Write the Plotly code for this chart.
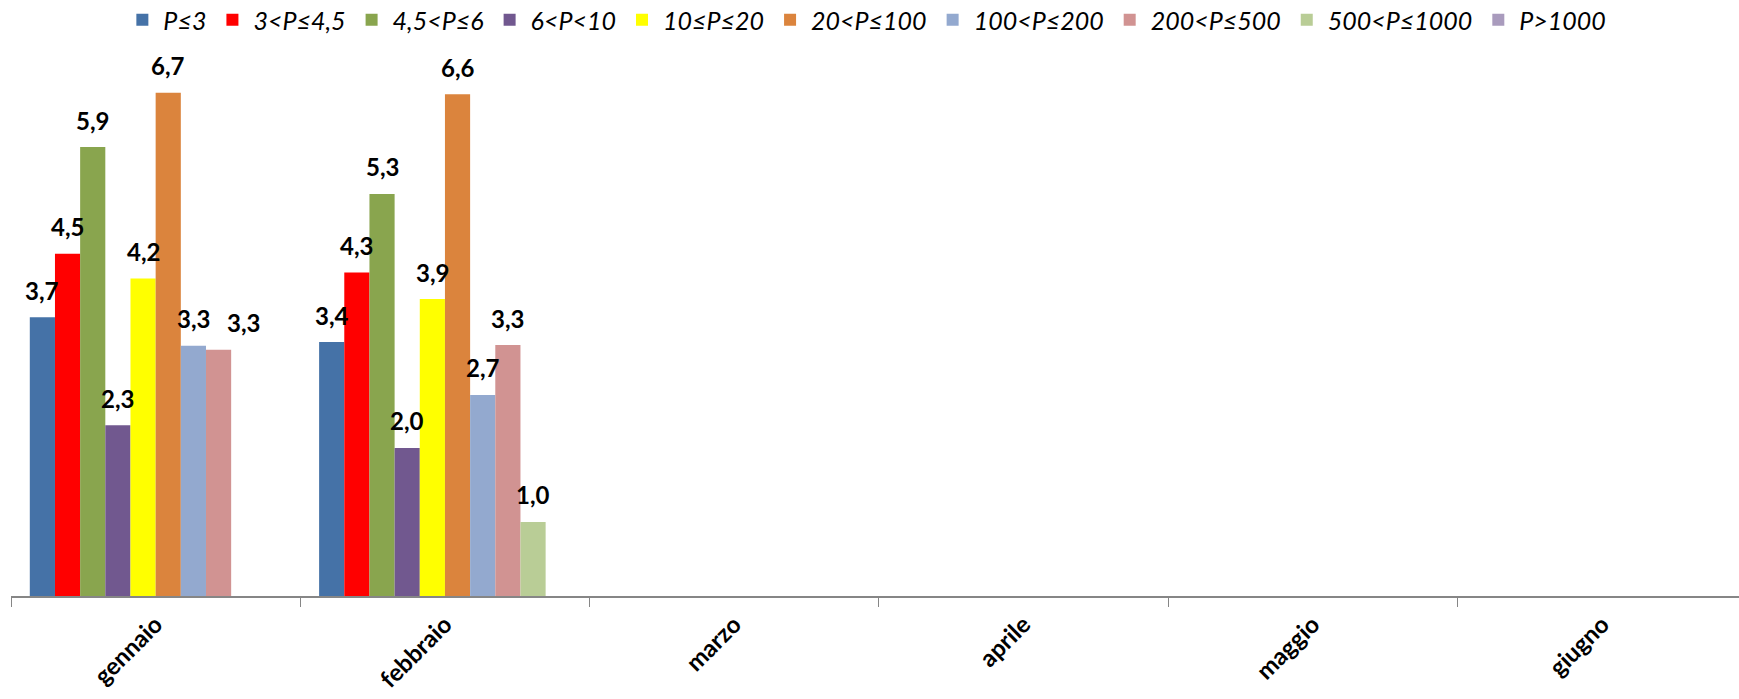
import plotly.graph_objects as go

months = ["gennaio", "febbraio", "marzo", "aprile", "maggio", "giugno"]
series_names = ["P≤3", "3<P≤4,5", "4,5<P≤6", "6<P<10", "10≤P≤20", "20<P≤100",
                "100<P≤200", "200<P≤500", "500<P≤1000", "P>1000"]
colors = ["#4572A7", "#FF0000", "#89A54E", "#71588F", "#FFFF00", "#DB843D",
          "#93A9CF", "#D19392", "#B9CD96", "#A99BBD"]

# values per series: [gennaio, febbraio, marzo, aprile, maggio, giugno]
p_le3 = [3.69, 3.36, None, None, None, None]
p_3_45 = [4.53, 4.28, None, None, None, None]
p_45_6 = [5.94, 5.32, None, None, None, None]
p_6_10 = [2.26, 1.96, None, None, None, None]
p_10_20 = [4.20, 3.93, None, None, None, None]
p_20_100 = [6.66, 6.64, None, None, None, None]
p_100_200 = [3.31, 2.66, None, None, None, None]
p_200_500 = [3.26, 3.32, None, None, None, None]
p_500_1000 = [None, 0.98, None, None, None, None]
p_gt1000 = [None, None, None, None, None, None]

all_values = [p_le3, p_3_45, p_45_6, p_6_10, p_10_20, p_20_100,
              p_100_200, p_200_500, p_500_1000, p_gt1000]

FONT = "Lato, 'Open Sans', sans-serif"
bargap = 0.13
nser = len(series_names)
bw = (1 - bargap) / nser

fig = go.Figure()
annotations = []
prev = {}
for i, (name, col, vals) in enumerate(zip(series_names, colors, all_values)):
    fig.add_trace(go.Bar(
        name=name, x=months, y=vals, marker=dict(color=col, line=dict(width=0)),
        hoverinfo="skip",
    ))
    for j, v in enumerate(vals):
        if v is None:
            continue
        label = f"{v:.1f}".replace(".", ",")
        xpos = j - (1 - bargap) / 2 + bw * (i + 0.5)
        # avoid collision with the neighbouring label at the same height
        p = prev.get(j)
        if p is not None and p[0] == i - 1 and abs(p[1] - v) < 0.35:
            xpos += bw
        prev[j] = (i, v)
        annotations.append(dict(
            x=xpos, y=v, xref="x", yref="y", text=label,
            showarrow=False, yanchor="middle", yshift=27,
            font=dict(family=FONT, size=24, color="black", weight="bold"),
        ))

fig.update_layout(
    width=1739, height=699,
    barmode="group", bargap=bargap, bargroupgap=0,
    plot_bgcolor="white", paper_bgcolor="white",
    margin=dict(l=11, r=0, t=67, b=103, autoexpand=False),
    showlegend=True,
    legend=dict(
        orientation="h", x=0.495, xanchor="center", yref="container",
        y=1 - 20 / 699, yanchor="middle",
        font=dict(family=FONT, size=25, color="black", style="italic"),
        itemwidth=32, traceorder="normal",
    ),
    annotations=annotations,
    xaxis=dict(
        range=[-0.5, 5.473], showline=True, linecolor="#868686", linewidth=2,
        ticks="outside", tickson="boundaries", ticklen=9, tickcolor="#868686",
        tickwidth=1, tickangle=-45, ticklabelstandoff=3, automargin=False,
        tickfont=dict(family=FONT, size=24, color="black", weight="bold"),
        showgrid=False, zeroline=False, fixedrange=True,
    ),
    yaxis=dict(
        range=[0, 7], showticklabels=False, showgrid=False, zeroline=False,
        showline=False, ticks="", fixedrange=True, automargin=False,
    ),
)

fig.write_html(
    "out.html",
    config={"displayModeBar": False},
    post_script="document.body.style.margin='0';document.body.style.overflow='hidden';",
)
